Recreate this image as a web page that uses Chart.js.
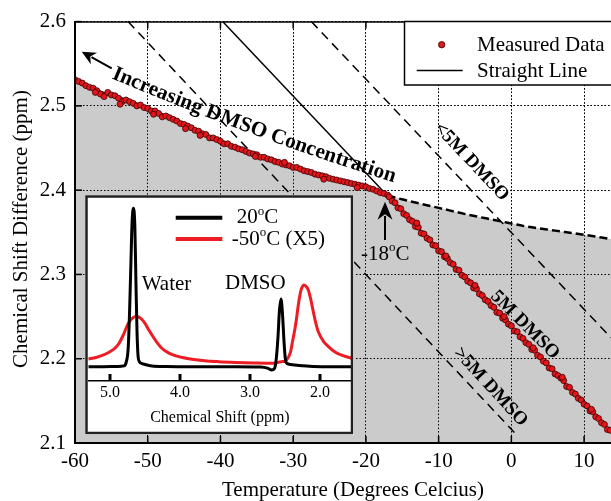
<!DOCTYPE html>
<html><head><meta charset="utf-8">
<script src="https://cdn.jsdelivr.net/npm/chart.js@4.4.1/dist/chart.umd.min.js"></script>
<style>
html,body{margin:0;padding:0;background:#fff;overflow:hidden}
#wrap{position:relative;width:611px;height:501px}
#main{position:absolute;left:0;top:0}
#inset{position:absolute;left:85px;top:195px}
</style></head><body>
<div id="wrap"><canvas id="main" width="611" height="501"></canvas><canvas id="inset" width="269" height="240"></canvas></div>
<script>
// ---------------- DATA ----------------
const xTicks = [-60,-50,-40,-30,-20,-10,0,10];
const yTicks = [2.1,2.2,2.3,2.4,2.5,2.6];

// measured data, upper branch (below -17 C)
const measUpperT = [-60,-59.5,-59,-58.5,-58,-57.5,-57,-56.5,-56,-55.5,-55,-54.5,-54,-53.5,-53,-52.5,-52,-51.5,-51,-50.5,
 -50,-49.5,-49,-48.5,-48,-47.5,-47,-46.5,-46,-45.5,-45,-44.5,-44,-43.5,-43,-42.5,-42,-41.5,-41,-40.5,
 -40,-39.5,-39,-38.5,-38,-37.5,-37,-36.5,-36,-35.5,-35,-34.5,-34,-33.5,-33,-32.5,-32,-31.5,-31,-30.5,
 -30,-29.5,-29,-28.5,-28,-27.5,-27,-26.5,-26,-25.5,-25,-24.5,-24,-23.5,-23,-22.5,-22,-21.5,-21,-20.5,
 -20,-19.5,-19,-18.5,-18,-17.5,-17];
const measUpperV = [2.531,2.529,2.527,2.524,2.522,2.521,2.518,2.514,2.511,2.516,
 2.513,2.512,2.509,2.505,2.507,2.505,2.503,2.500,2.501,2.498,
 2.497,2.494,2.494,2.491,2.487,2.488,2.486,2.484,2.482,2.479,
 2.478,2.476,2.474,2.471,2.470,2.467,2.466,2.462,2.462,2.460,
 2.458,2.455,2.455,2.452,2.451,2.449,2.448,2.446,2.444,2.443,
 2.442,2.439,2.439,2.437,2.436,2.434,2.433,2.431,2.430,2.429,
 2.427,2.427,2.425,2.423,2.422,2.421,2.419,2.418,2.417,2.416,
 2.414,2.413,2.412,2.411,2.410,2.409,2.408,2.407,2.406,2.405,
 2.404,2.402,2.401,2.399,2.397,2.396,2.394];
// measured data, lower branch (above -17 C)
const measLowerT = [-16.8,-16.4,-16.0,-15.6,-15.2,-14.8,-14.4,-14.0,-13.6,-13.2,-12.8,-12.4,-12.0,-11.6,-11.2,-10.8,-10.4,-10.0,
 -9.6,-9.2,-8.8,-8.4,-8.0,-7.6,-7.2,-6.8,-6.4,-6.0,-5.6,-5.2,-4.8,-4.4,-4.0,-3.6,-3.2,-2.8,-2.4,-2.0,-1.6,-1.2,-0.8,-0.4,
 0.0,0.4,0.8,1.2,1.6,2.0,2.4,2.8,3.2,3.6,4.0,4.4,4.8,5.2,5.6,6.0,6.4,6.8,7.2,7.6,8.0,8.4,8.8,9.2,9.6,10.0,
 10.4,10.8,11.2,11.6,12.0,12.4,12.8,13.2,13.6];
const measLowerV = [2.392,2.387,2.385,2.379,2.378,2.372,2.370,2.365,2.363,2.357,2.356,2.349,2.348,2.343,2.341,2.335,2.334,2.328,
 2.327,2.321,2.319,2.314,2.312,2.306,2.305,2.299,2.297,2.292,2.290,2.284,2.283,2.277,2.275,2.270,2.268,2.263,2.261,2.255,2.254,2.248,2.246,2.241,
 2.239,2.233,2.232,2.226,2.224,2.219,2.217,2.211,2.210,2.204,2.202,2.197,2.195,2.189,2.188,2.182,2.180,2.177,2.174,2.167,2.166,2.160,2.158,2.153,2.151,2.146,
 2.144,2.138,2.137,2.131,2.129,2.124,2.122,2.116,2.115];
const measExtraT = [-57.2,-53.8,-49.2,-44.8,-42.8,-35.2,-31.2,-25.8,-21.2,-13.0,-9.0,-5.0,-1.0,3.0,7.0,11.0];
const measExtraV = [2.516,2.502,2.490,2.473,2.465,2.440,2.433,2.413,2.403,2.361,2.322,2.287,2.250,2.213,2.178,2.140];

// upper boundary curve (fit below -17 C, dashed extension above)
const curveT = [-60,-58,-56,-54,-52,-50,-48,-46,-44,-42,-40,-38,-36,-34,-32,-30,-28,-26,-24,-22,-20,-18,-17,-14,-10,-6,-2,2,6,10,13.7];
const curveV = [2.530,2.522,2.515,2.510,2.504,2.497,2.490,2.482,2.474,2.466,2.458,2.451,2.445,2.439,2.433,2.427,2.422,2.417,2.412,2.408,2.404,2.398,2.394,2.387,2.379,2.371,2.364,2.357,2.352,2.347,2.342];

// straight line and the two dashed concentration lines
const lineT = [-39.7, 13.7];   const lineV = [2.600, 2.113];
const dashAT = [-52.7, 0.9];   const dashAV = [2.600, 2.108];
const dashBT = [-27.5, 13.7];  const dashBV = [2.600, 2.225];

// inset NMR spectra
const insetTicks = [5.0, 4.0, 3.0, 2.0];
const blackPpm = [5.31,5.10,4.90,4.80,4.77,4.74,4.72,4.70,4.685,4.665,4.645,4.63,4.615,4.60,4.58,4.55,4.50,4.40,4.20,3.80,3.20,2.85,2.75,2.69,2.65,2.625,2.60,2.58,2.557,2.535,2.515,2.495,2.47,2.42,2.30,2.10,1.80,1.55];
const blackI   = [7.8,7.8,7.9,8.2,10,18,38,66,86,93.9,84,55,28,14,10.5,9.6,9.0,8.2,7.9,7.8,7.8,7.6,7.0,6.0,6.8,12,24,38,44.6,36,22,12,9.5,9.0,8.4,7.9,7.8,7.8];
const redPpm = [5.31,5.20,5.12,5.02,4.93,4.87,4.81,4.74,4.68,4.62,4.56,4.50,4.45,4.40,4.33,4.26,4.17,4.07,3.95,3.83,3.65,3.45,3.21,2.95,2.69,2.55,2.50,2.45,2.42,2.39,2.357,2.33,2.31,2.27,2.23,2.20,2.167,2.13,2.096,2.06,2.024,1.95,1.88,1.78,1.69,1.55];
const redI   = [12.0,12.8,13.8,15.5,17.8,20.5,25,31.3,34.2,35,34,31.3,28,25,21,17.8,15.4,13.8,12.6,11.8,11.0,10.5,10.1,9.8,9.6,10.5,10.8,13,16,22,28.6,35.5,41.3,49.5,52.2,51.5,49.5,44,37.7,31.5,26.8,21.5,18.7,15.6,14.1,12.3];

// ---------------- RENDER ----------------
const SERIF = '"Liberation Serif","Times New Roman",serif';
Chart.defaults.font.family = SERIF;
Chart.defaults.color = '#000';
const pts = (xs, ys) => xs.map((x, i) => ({x: x, y: ys[i]}));
const measT = measUpperT.concat(measLowerT, measExtraT);
const measV = measUpperV.concat(measLowerV, measExtraV);

function richParts(str){ // '^o' marks superscript o
  const parts=[]; const segs=str.split('^');
  parts.push({t:segs[0]});
  for(let i=1;i<segs.length;i++){ parts.push({t:segs[i][0],sup:true}); if(segs[i].length>1) parts.push({t:segs[i].slice(1)}); }
  return parts.filter(p=>p.t.length);
}
function drawRich(ctx, str, x, y, size, weight, align){
  const parts=richParts(str); let w=0;
  const f = p => `${weight} ${p.sup?Math.round(size*0.62):size}px ${SERIF}`;
  parts.forEach(p=>{ctx.font=f(p); p.w=ctx.measureText(p.t).width; w+=p.w;});
  let cx = align==='center'? x-w/2 : (align==='right'? x-w : x);
  ctx.textAlign='left'; ctx.textBaseline='middle';
  parts.forEach(p=>{ctx.font=f(p); ctx.fillText(p.t, cx, p.sup? y-size*0.30 : y); cx+=p.w;});
}
function drawRotated(ctx, text, cx, cy, deg, font){
  ctx.save(); ctx.translate(cx,cy); ctx.rotate(deg*Math.PI/180);
  ctx.font=font; ctx.textAlign='center'; ctx.textBaseline='middle'; ctx.fillText(text,0,0); ctx.restore();
}
function drawArrow(ctx, x1,y1,x2,y2, hl, hw, lw){
  const a=Math.atan2(y2-y1,x2-x1); const ca=Math.cos(a), sa=Math.sin(a);
  const bx=x2-ca*hl*0.8, by=y2-sa*hl*0.8;
  ctx.save(); ctx.strokeStyle='#000'; ctx.fillStyle='#000'; ctx.lineWidth=lw;
  ctx.beginPath(); ctx.moveTo(x1,y1); ctx.lineTo(bx,by); ctx.stroke();
  ctx.beginPath(); ctx.moveTo(x2,y2);
  ctx.lineTo(x2-ca*hl - sa*hw, y2-sa*hl + ca*hw);
  ctx.lineTo(x2-ca*hl*0.7, y2-sa*hl*0.7);
  ctx.lineTo(x2-ca*hl + sa*hw, y2-sa*hl - ca*hw);
  ctx.closePath(); ctx.fill(); ctx.restore();
}
function drawCurvedText(ctx, text, P0, C, P2, weight){
  const bz=t=>({x:(1-t)*(1-t)*P0.x+2*(1-t)*t*C.x+t*t*P2.x, y:(1-t)*(1-t)*P0.y+2*(1-t)*t*C.y+t*t*P2.y});
  const bd=t=>({x:2*(1-t)*(C.x-P0.x)+2*t*(P2.x-C.x), y:2*(1-t)*(C.y-P0.y)+2*t*(P2.y-C.y)});
  const N=600; const lens=[0]; let L=0, prev=P0;
  for(let i=1;i<=N;i++){const p=bz(i/N); L+=Math.hypot(p.x-prev.x,p.y-prev.y); lens.push(L); prev=p;}
  ctx.font=`${weight} 20px ${SERIF}`;
  let w20=0; for(const ch of text) w20+=ctx.measureText(ch).width;
  const size=20*L/w20;
  ctx.font=`${weight} ${size}px ${SERIF}`; ctx.textAlign='center'; ctx.textBaseline='middle';
  let s=0;
  for(const ch of text){
    const cw=ctx.measureText(ch).width; const sc=s+cw/2;
    let i=lens.findIndex(l=>l>=sc); if(i<0)i=N;
    const t=i/N, p=bz(t), d=bd(t);
    ctx.save(); ctx.translate(p.x,p.y); ctx.rotate(Math.atan2(d.y,d.x)); ctx.fillText(ch,0,0); ctx.restore();
    s+=cw;
  }
}

const mainPlugin = {
  id:'mainDecor',
  afterDatasetDraw(chart, args){
    if(args.index===0){ chart.scales.x.drawGrid(chart.chartArea); chart.scales.y.drawGrid(chart.chartArea); }
  },
  afterDraw(chart){
    const ctx=chart.ctx, a=chart.chartArea, xs=chart.scales.x, ys=chart.scales.y;
    ctx.save();
    // axes borders
    ctx.strokeStyle='#000'; ctx.lineWidth=2;
    ctx.beginPath(); ctx.moveTo(a.left, a.top); ctx.lineTo(a.left, a.bottom); ctx.lineTo(a.right+2, a.bottom); ctx.stroke();
    ctx.lineWidth=1.5; ctx.beginPath(); ctx.moveTo(a.left, a.top+0.5); ctx.lineTo(a.right+2, a.top+0.5); ctx.stroke();
    // inward ticks
    ctx.lineWidth=1.5;
    xTicks.forEach(v=>{ if(v===xTicks[0]) return; const px=xs.getPixelForValue(v);
      ctx.beginPath(); ctx.moveTo(px,a.bottom); ctx.lineTo(px,a.bottom-7); ctx.moveTo(px,a.top); ctx.lineTo(px,a.top+7); ctx.stroke(); });
    yTicks.forEach(v=>{ const py=ys.getPixelForValue(v);
      ctx.beginPath(); ctx.moveTo(a.left,py); ctx.lineTo(a.left+7,py); ctx.stroke(); });
    // axis titles
    ctx.fillStyle='#000';
    ctx.font=`21px ${SERIF}`; ctx.textAlign='center'; ctx.textBaseline='middle';
    ctx.fillText('Temperature (Degrees Celcius)', 353, 490);
    ctx.save(); ctx.translate(21.5, 229); ctx.rotate(-Math.PI/2); ctx.fillText('Chemical Shift Difference (ppm)', 0, 0); ctx.restore();
    // legend
    const ms=chart.data.datasets[5], sl=chart.data.datasets[4];
    ctx.fillStyle='#fff'; ctx.fillRect(404,21,230,64);
    ctx.strokeStyle='#000'; ctx.lineWidth=1.5; ctx.strokeRect(404.5,21.5,230,63.5);
    ctx.beginPath(); ctx.arc(441.7,44.7,3.2,0,Math.PI*2); ctx.fillStyle=ms.pointBackgroundColor; ctx.fill();
    ctx.lineWidth=0.8; ctx.strokeStyle=ms.pointBorderColor; ctx.stroke();
    ctx.strokeStyle=sl.borderColor; ctx.lineWidth=sl.borderWidth;
    ctx.beginPath(); ctx.moveTo(416.7,70.5); ctx.lineTo(462.7,70.5); ctx.stroke();
    ctx.fillStyle='#000'; ctx.font=`21px ${SERIF}`; ctx.textAlign='left'; ctx.textBaseline='middle';
    ctx.fillText(ms.label, 477, 45); ctx.fillText(sl.label, 477, 71);
    // annotations
    drawCurvedText(ctx, 'Increasing DMSO Concentration', {x:113,y:73}, {x:250,y:131}, {x:395,y:177}, 'bold');
    drawArrow(ctx, 111.7,68.3, 81.7,51.7, 14, 6.5, 2);
    drawArrow(ctx, 385,240, 385,201.7, 18, 7.5, 2);
    ctx.fillStyle='#000';
    drawRich(ctx, '-18^oC', 361, 254, 21, 'normal', 'left');
    drawRotated(ctx, '<5M DMSO', 471.5, 162, 46.7, `bold 19px ${SERIF}`);
    drawRotated(ctx, '5M DMSO', 525, 325, 45, `bold 19px ${SERIF}`);
    drawRotated(ctx, '>5M DMSO', 490.5, 387, 47.5, `bold 19px ${SERIF}`);
    ctx.restore();
  }
};

const axisCommon = {
  grid:{color:'#000', lineWidth:1, drawTicks:false},
  border:{display:true, color:'#000', width:2, dash:[1.5,2]}
};

new Chart(document.getElementById('main'), {
  type:'line',
  data:{datasets:[
    {label:'fill', data:pts(curveT,curveV), fill:'start', backgroundColor:'#cbcbcb', borderColor:'rgba(0,0,0,0)', borderWidth:0, pointRadius:0, order:10},
    {label:'dashA', data:pts(dashAT,dashAV), borderColor:'#000', borderWidth:1.5, borderDash:[9,6], pointRadius:0, fill:false, order:6},
    {label:'dashB', data:pts(dashBT,dashBV), borderColor:'#000', borderWidth:1.5, borderDash:[9,6], pointRadius:0, fill:false, order:6},
    {label:'curve', data:pts(curveT,curveV), borderColor:'#000', borderWidth:2.5, pointRadius:0, fill:false, cubicInterpolationMode:'monotone',
      segment:{borderDash: c => (c.p0.parsed.x >= -17.5 ? [8,4] : undefined)}, order:4},
    {label:'Straight Line', data:pts(lineT,lineV), borderColor:'#000', borderWidth:1.5, pointRadius:0, fill:false, order:3},
    {label:'Measured Data', data:pts(measT,measV), showLine:false, pointRadius:3, pointBackgroundColor:'#e3161b', pointBorderColor:'#3a0000', pointBorderWidth:0.8, order:1}
  ]},
  options:{
    responsive:false, animation:false, devicePixelRatio:1,
    layout:{autoPadding:false, padding:{top:16,left:0,right:0,bottom:0}},
    plugins:{legend:{display:false}, tooltip:{enabled:false}},
    scales:{
      x:Object.assign({type:'linear', min:-60, max:13.7,
        afterBuildTicks:s=>{s.ticks=xTicks.map(v=>({value:v}));},
        afterFit:s=>{s.height=58;},
        ticks:{font:{size:21}, color:'#000', padding:6, maxRotation:0, autoSkip:false, callback:v=>String(v)}}, axisCommon),
      y:Object.assign({type:'linear', min:2.1, max:2.6,
        afterBuildTicks:s=>{s.ticks=yTicks.map(v=>({value:v}));},
        afterFit:s=>{s.width=75;},
        ticks:{font:{size:21}, color:'#000', padding:9, callback:v=>v.toFixed(1)}}, axisCommon)
    }
  },
  plugins:[mainPlugin]
});

const insetPlugin = {
  id:'insetDecor',
  beforeDraw(chart){ const c=chart.ctx; c.save(); c.fillStyle='#fff'; c.fillRect(0,0,chart.width,chart.height); c.restore(); },
  afterDraw(chart){
    const ctx=chart.ctx, a=chart.chartArea, xs=chart.scales.x;
    ctx.save();
    ctx.fillStyle='#000';
    insetTicks.forEach(v=>{ const px=xs.getPixelForValue(v); ctx.fillRect(px-1.5, a.bottom-7, 3, 7); });
    ctx.strokeStyle='#222'; ctx.lineWidth=2.5; ctx.strokeRect(1.5,1.5,265.5,236.5);
    const k=chart.data.datasets[1], r=chart.data.datasets[0];
    ctx.lineWidth=4; ctx.strokeStyle=k.borderColor; ctx.beginPath(); ctx.moveTo(90.7,22.7); ctx.lineTo(137.3,22.7); ctx.stroke();
    ctx.strokeStyle=r.borderColor; ctx.beginPath(); ctx.moveTo(90.7,44); ctx.lineTo(137.3,44); ctx.stroke();
    ctx.fillStyle='#000';
    drawRich(ctx, k.label, 151.7, 22.7, 21, 'normal', 'left');
    drawRich(ctx, r.label, 146.7, 44, 21, 'normal', 'left');
    ctx.font=`21px ${SERIF}`; ctx.textAlign='left'; ctx.textBaseline='middle';
    ctx.fillText('Water', 56.7, 89.3);
    ctx.fillText('DMSO', 140, 88.3);
    ctx.restore();
  }
};

new Chart(document.getElementById('inset'), {
  type:'line',
  data:{datasets:[
    {label:'-50^oC (X5)', data:pts(redPpm,redI), borderColor:'#ee1c24', borderWidth:3, pointRadius:0, fill:false, cubicInterpolationMode:'monotone', order:2},
    {label:'20^oC', data:pts(blackPpm,blackI), borderColor:'#000', borderWidth:3, pointRadius:0, fill:false, cubicInterpolationMode:'monotone', order:1}
  ]},
  options:{
    responsive:false, animation:false, devicePixelRatio:1,
    layout:{autoPadding:false, padding:{left:3.3, right:2.5, top:2, bottom:0}},
    plugins:{legend:{display:false}, tooltip:{enabled:false}},
    scales:{
      x:{type:'linear', reverse:true, min:1.55, max:5.31,
        afterBuildTicks:s=>{s.ticks=insetTicks.map(v=>({value:v}));},
        afterFit:s=>{s.height=54;},
        ticks:{font:{size:16}, color:'#000', padding:2, maxRotation:0, autoSkip:false, callback:v=>v.toFixed(1)},
        grid:{display:false, drawTicks:false},
        border:{display:true, color:'#000', width:1.5},
        title:{display:true, text:'Chemical Shift (ppm)', font:{size:16}, color:'#000', padding:{top:0,bottom:8}}},
      y:{display:false, min:0, max:100}
    }
  },
  plugins:[insetPlugin]
});
</script>
</body></html>
